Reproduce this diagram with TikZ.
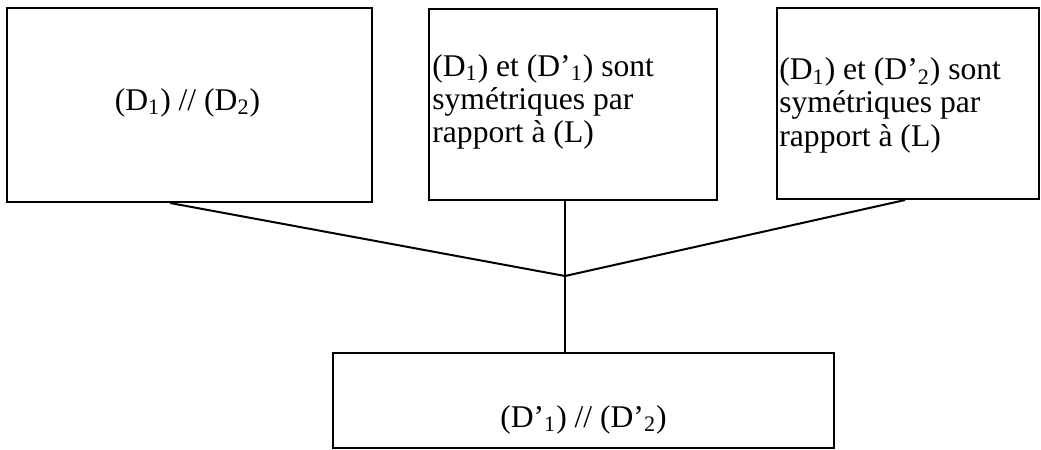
\documentclass[tikz,border=0pt]{standalone}
\usepackage{fontspec}
\setmainfont{Liberation Serif}
\usetikzlibrary{calc}
\begin{document}
\begin{tikzpicture}[x=0.5pt,y=-0.5pt,
  box/.style={draw, line width=1pt, inner sep=0pt, minimum height=95.5pt},
  txt/.style={inner sep=0pt, font=\fontsize{15.8}{16.6}\selectfont},
  link/.style={line width=1pt}]
\useasboundingbox (0,0) rectangle (1041,450);

% the four statements
\node[box, minimum width=182.5pt, minimum height=97pt] (b1) at (189.5,105) {};
\node[box, minimum width=144pt] (b2) at (573,104.5) {};
\node[box, minimum width=131pt] (b3) at (908,103.5) {};
\node[box, minimum width=250.5pt, minimum height=47.5pt] (b4) at (583.5,400.5) {};

% their texts (base of a multi-line node = baseline of its last line)
\node[txt, anchor=base] (t1) at (187.5,110) {(D\textsubscript{1}) // (D\textsubscript{2})};

\node[txt, align=left, anchor=base west] (t2) at (432,142.5)
  {(D\textsubscript{1}) et (D’\textsubscript{1}) sont\\symétriques par\\rapport à (L)};

\node[txt, align=left, anchor=base west] (t3) at (779,146)
  {(D\textsubscript{1}) et (D’\textsubscript{2}) sont\\symétriques par\\rapport à (L)};

\node[txt, anchor=base] (t4) at (583.5,427) {(D’\textsubscript{1}) // (D’\textsubscript{2})};

% connectors meeting at one point
\coordinate (j) at (565,276);
\draw[link] ($(b1.south west)!0.447!(b1.south east)$) -- (j);
\draw[link] (b2.south -| j) -- (j);
\draw[link] ($(b3.south west)!0.489!(b3.south east)$) -- (j);
\draw[link] (j) -- (b4.north -| j);
\end{tikzpicture}
\end{document}
